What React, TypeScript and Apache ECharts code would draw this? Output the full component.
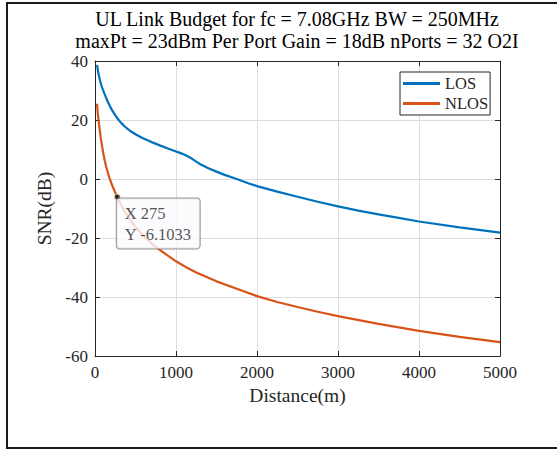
import React, { useEffect, useRef } from "react";
import * as echarts from "echarts";

const titleLines = [
  "UL Link Budget for fc = 7.08GHz BW = 250MHz",
  "maxPt = 23dBm Per Port Gain = 18dB nPorts = 32 O2I",
];
const seriesNames = ["LOS", "NLOS"];

const distLOS = [25, 40, 50, 62, 75, 88, 100, 115, 130, 150, 173, 195, 220, 245, 275, 300, 330, 355, 378, 410, 450, 500, 584, 650, 700, 800, 900, 1000, 1050, 1100, 1150, 1200, 1250, 1300, 1400, 1500, 1600, 1750, 1900, 2000, 2250, 2500, 2750, 3000, 3250, 3500, 3750, 4000, 4500, 5000];
const snrLOS = [38.7, 36.2, 34.8, 33.4, 32.1, 31.0, 30.1, 29.0, 28.0, 26.7, 25.3, 24.1, 22.9, 21.8, 20.6, 19.75, 18.85, 18.15, 17.55, 16.8, 16.0, 15.15, 13.9, 13.1, 12.5, 11.4, 10.35, 9.35, 8.85, 8.3, 7.65, 6.85, 5.9, 5.0, 3.65, 2.5, 1.4, 0.0, -1.5, -2.4, -4.3, -6.0, -7.7, -9.3, -10.7, -12.0, -13.2, -14.4, -16.4, -18.2];

const distNLOS = [25, 35, 50, 70, 90, 105, 120, 135, 152, 180, 213, 245, 275, 310, 350, 400, 450, 500, 600, 700, 782, 900, 1000, 1125, 1250, 1500, 1750, 2000, 2250, 2500, 2750, 3000, 3500, 4000, 4500, 5000];
const snrNLOS = [25.5, 22.0, 18.4, 14.1, 10.7, 8.4, 6.3, 4.5, 2.8, 0.2, -2.2, -4.3, -6.1033, -8.1, -10.2, -12.4, -14.4, -16.2, -19.3, -21.9, -23.7, -26.0, -27.9, -29.9, -31.7, -34.7, -37.2, -39.7, -41.7, -43.4, -45.0, -46.5, -49.1, -51.5, -53.5, -55.3];

const tipX = 275;
const tipY = -6.1033;

const FONT = "'Liberation Serif', 'DejaVu Serif', serif";
const INK = "#262626";

export default function App() {
  const ref = useRef<HTMLDivElement>(null);
  useEffect(() => {
    document.body.style.margin = "0";
    const chart = echarts.init(ref.current!, null, { renderer: "svg" });
    const axisCommon = {
      axisLine: { show: true, onZero: false, lineStyle: { color: INK, width: 1 } },
      axisTick: { show: true, inside: true, length: 5, lineStyle: { color: INK } },
    };
    chart.setOption({
      animation: false,
      backgroundColor: "#ffffff",
      grid: { left: 95, right: 57, top: 61, bottom: 94, containLabel: false },
      xAxis: [
        {
          type: "value",
          min: 0,
          max: 5000,
          interval: 1000,
          position: "bottom",
          ...axisCommon,
          axisLabel: { fontFamily: FONT, fontSize: 17, color: INK, margin: 8, formatter: (v: number) => String(v) },
          splitLine: { show: true, lineStyle: { color: "#dedede", width: 1 } },
          name: "Distance(m)",
          nameLocation: "middle",
          nameGap: 27,
          nameTextStyle: { fontFamily: FONT, fontSize: 19.5, color: INK },
        },
        {
          type: "value",
          min: 0,
          max: 5000,
          interval: 1000,
          position: "top",
          ...axisCommon,
          axisLabel: { show: false },
          splitLine: { show: false },
        },
      ],
      yAxis: [
        {
          type: "value",
          min: -60,
          max: 40,
          interval: 20,
          position: "left",
          ...axisCommon,
          axisLabel: { fontFamily: FONT, fontSize: 17, color: INK, margin: 7, formatter: (v: number) => String(v) },
          splitLine: { show: true, lineStyle: { color: "#dedede", width: 1 } },
          name: "SNR(dB)",
          nameLocation: "middle",
          nameGap: 38,
          nameTextStyle: { fontFamily: FONT, fontSize: 19.5, color: INK },
        },
        {
          type: "value",
          min: -60,
          max: 40,
          interval: 20,
          position: "right",
          ...axisCommon,
          axisLabel: { show: false },
          splitLine: { show: false },
        },
      ],
      legend: {
        left: 400,
        top: 72,
        orient: "vertical",
        backgroundColor: "#ffffff",
        borderColor: INK,
        borderWidth: 1,
        padding: [3, 2, 3, 3],
        itemWidth: 37,
        itemHeight: 3,
        itemGap: 3,
        textStyle: { fontFamily: FONT, fontSize: 16.5, color: INK },
        data: seriesNames.map((n) => ({ name: n, icon: "rect" })),
      },
      series: [
        {
          name: seriesNames[0],
          type: "line",
          data: distLOS.map((d, i) => [d, snrLOS[i]]),
          showSymbol: false,
          smooth: false,
          lineStyle: { color: "#0072BD", width: 2.2 },
          itemStyle: { color: "#0072BD" },
        },
        {
          name: seriesNames[1],
          type: "line",
          data: distNLOS.map((d, i) => [d, snrNLOS[i]]),
          showSymbol: false,
          smooth: false,
          lineStyle: { color: "#D95319", width: 2.2 },
          itemStyle: { color: "#D95319" },
        },
        {
          name: "tip",
          type: "scatter",
          z: 10,
          data: [[tipX, tipY]],
          symbolSize: 6,
          itemStyle: { color: "#111111", borderColor: "#f3efb0", borderWidth: 1 },
          label: {
            show: true,
            position: [3, 5],
            align: "left",
            verticalAlign: "top",
            formatter: () => `X ${tipX}\nY ${tipY}`,
            fontFamily: FONT,
            fontSize: 16.5,
            lineHeight: 21,
            color: INK,
            backgroundColor: "#fbfbff",
            borderColor: "#7a7a7a",
            borderWidth: 1,
            borderRadius: 3,
            padding: [4, 8, 4, 8],
          },
        },
      ],
      graphic: [
        {
          type: "rect",
          shape: { x: 7, y: 3, width: 560, height: 445 },
          style: { fill: "none", stroke: "#1a1a1a", lineWidth: 2 },
          silent: true,
        },
        ...titleLines.map((t, i) => ({
          type: "text",
          x: 297,
          y: 18.5 + i * 22.5,
          style: {
            text: t,
            textAlign: "center",
            textVerticalAlign: "middle",
            fontFamily: FONT,
            fontSize: 20,
            fill: "#000000",
          },
        })),
      ],
    });
    return () => chart.dispose();
  }, []);
  return (
    <div
      ref={ref}
      style={{ position: "absolute", left: 0, top: 0, width: 557, height: 450 }}
    />
  );
}
